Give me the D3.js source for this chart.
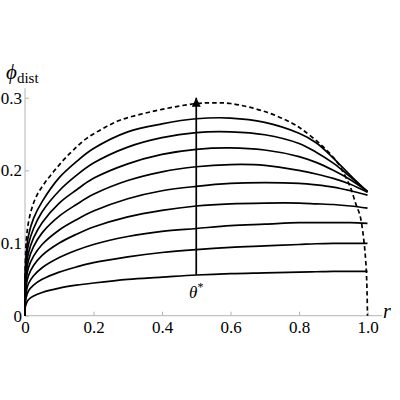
<!DOCTYPE html>
<html><head><meta charset="utf-8">
<script src="https://cdn.jsdelivr.net/npm/d3@7"></script>
<style>
html,body{margin:0;padding:0;background:#fff;}
svg{display:block;}
</style></head>
<body>
<svg id="chart" width="400" height="400"></svg>
<script>
// r sample positions
const rValues = [0, 0.001, 0.004, 0.01, 0.025, 0.05, 0.1, 0.15, 0.2, 0.3, 0.4, 0.5, 0.6, 0.7, 0.8, 0.85, 0.9, 0.95, 1.0];
// solid curves (increasing theta*)
const curve1 = [0, 0.012, 0.017, 0.022, 0.027, 0.032, 0.038, 0.042, 0.045, 0.050, 0.053, 0.056, 0.058, 0.059, 0.060, 0.0605, 0.061, 0.061, 0.061];
const curve2 = [0, 0.017, 0.026, 0.034, 0.042, 0.050, 0.060, 0.067, 0.073, 0.081, 0.087, 0.091, 0.094, 0.096, 0.098, 0.099, 0.0995, 0.0995, 0.0995];
const curve3 = [0, 0.023, 0.034, 0.044, 0.055, 0.066, 0.080, 0.090, 0.098, 0.109, 0.116, 0.120, 0.124, 0.126, 0.128, 0.128, 0.128, 0.128, 0.127];
const curve4 = [0, 0.029, 0.043, 0.055, 0.069, 0.083, 0.100, 0.112, 0.122, 0.136, 0.145, 0.151, 0.154, 0.155, 0.155, 0.154, 0.153, 0.151, 0.148];
const curve5 = [0, 0.035, 0.051, 0.066, 0.082, 0.098, 0.118, 0.132, 0.144, 0.161, 0.172, 0.178, 0.182, 0.183, 0.182, 0.180, 0.177, 0.172, 0.166];
const curve6 = [0, 0.041, 0.060, 0.076, 0.095, 0.114, 0.137, 0.153, 0.167, 0.186, 0.198, 0.205, 0.208, 0.207, 0.200, 0.195, 0.189, 0.181, 0.170];
const curve7 = [0, 0.047, 0.068, 0.086, 0.107, 0.128, 0.155, 0.173, 0.189, 0.209, 0.222, 0.229, 0.231, 0.228, 0.219, 0.211, 0.200, 0.187, 0.171];
const curve8 = [0, 0.055, 0.077, 0.098, 0.120, 0.143, 0.172, 0.193, 0.210, 0.232, 0.245, 0.252, 0.253, 0.249, 0.237, 0.225, 0.210, 0.191, 0.171];
const curve9 = [0, 0.063, 0.088, 0.110, 0.134, 0.157, 0.190, 0.212, 0.230, 0.253, 0.264, 0.271, 0.272, 0.266, 0.251, 0.238, 0.217, 0.193, 0.170];
const solidCurves = [curve1, curve2, curve3, curve4, curve5, curve6, curve7, curve8, curve9];
// dashed envelope
const envR   = [0, 0.001, 0.004, 0.01, 0.02, 0.035, 0.058, 0.083, 0.112, 0.141, 0.18, 0.229, 0.277, 0.336, 0.4, 0.5, 0.55, 0.6, 0.7, 0.78, 0.81, 0.86, 0.9, 0.92, 0.95, 0.965, 0.978, 0.987, 0.996, 1.0];
const envPhi = [0, 0.072, 0.105, 0.128, 0.148, 0.166, 0.183, 0.198, 0.214, 0.228, 0.244, 0.258, 0.269, 0.277, 0.284, 0.292, 0.293, 0.292, 0.281, 0.265, 0.256, 0.237, 0.218, 0.205, 0.177, 0.155, 0.138, 0.113, 0.067, 0];
// arrow (theta* increasing)
const arrowR = 0.5, arrowFrom = 0.056, arrowTo = 0.3;
const xTicks = [0, 0.2, 0.4, 0.6, 0.8, 1.0];
const xTickLabels = ["0", "0.2", "0.4", "0.6", "0.8", "1.0"];
const yTicks = [0, 0.1, 0.2, 0.3];
const yTickLabels = ["0", "0.1", "0.2", "0.3"];

const FONT = "Liberation Serif, serif";
const svg = d3.select("#chart").attr("font-family", FONT);
const x = d3.scaleLinear().domain([0, 1]).range([25, 367.5]);
const y = d3.scaleLinear().domain([0, 0.3]).range([315.7, 97.7]);
const axisColor = "#b4b4b4";

// axis lines
svg.append("line").attr("x1", x(0)).attr("x2", x(1.043)).attr("y1", y(0)).attr("y2", y(0))
  .attr("stroke", axisColor).attr("stroke-width", 1);
svg.append("line").attr("x1", x(0)).attr("x2", x(0)).attr("y1", y(0)).attr("y2", y(0.313))
  .attr("stroke", axisColor).attr("stroke-width", 1);

const xAxis = svg.append("g").attr("transform", `translate(0,${y(0)})`)
  .call(d3.axisBottom(x).tickValues(xTicks).tickFormat((d, i) => xTickLabels[i]).tickSize(-4).tickSizeOuter(0));
xAxis.attr("font-family", FONT).attr("font-size", 17);
xAxis.select(".domain").remove();
xAxis.selectAll("line").attr("stroke", axisColor);
xAxis.selectAll("text").attr("y", 17).attr("dy", 0).attr("fill", "#000").attr("font-family", FONT);

const yAxis = svg.append("g").attr("transform", `translate(${x(0)},0)`)
  .call(d3.axisLeft(y).tickValues(yTicks).tickFormat((d, i) => yTickLabels[i]).tickSize(-4).tickSizeOuter(0));
yAxis.attr("font-family", FONT).attr("font-size", 17);
yAxis.select(".domain").remove();
yAxis.selectAll("line").attr("stroke", axisColor);
yAxis.selectAll("text").attr("x", -3).attr("dy", "0.33em").attr("fill", "#000").attr("font-family", FONT);

const line = d3.line().x(d => x(d[0])).y(d => y(d[1])).curve(d3.curveCatmullRom.alpha(0.5));

// solid curves
svg.append("g").selectAll("path").data(solidCurves).join("path")
  .attr("d", c => line(rValues.map((r, i) => [r, c[i]])))
  .attr("fill", "none").attr("stroke", "#000").attr("stroke-width", 1.7);

// dashed envelope
svg.append("path")
  .attr("d", line(envR.map((r, i) => [r, envPhi[i]])))
  .attr("fill", "none").attr("stroke", "#000").attr("stroke-width", 1.7)
  .attr("stroke-dasharray", "4.5,3");

// arrow
const defs = svg.append("defs");
defs.append("marker").attr("id", "ah").attr("viewBox", "0 0 10 10").attr("refX", 10).attr("refY", 5)
  .attr("markerWidth", 10).attr("markerHeight", 9).attr("markerUnits", "userSpaceOnUse").attr("orient", "auto")
  .append("path").attr("d", "M0,0 L10,5 L0,10 Z").attr("fill", "#000");
svg.append("line").attr("x1", x(arrowR)).attr("x2", x(arrowR)).attr("y1", y(arrowFrom)).attr("y2", y(arrowTo))
  .attr("stroke", "#000").attr("stroke-width", 1.7).attr("marker-end", "url(#ah)");

// theta* label
const th = svg.append("text").attr("x", x(arrowR)).attr("y", 298).attr("text-anchor", "middle")
  .attr("font-size", 17).attr("font-family", FONT);
th.append("tspan").attr("font-style", "italic").text("θ");
th.append("tspan").attr("dy", -7).attr("font-size", 12).text("*");

// r label
svg.append("text").attr("x", 383).attr("y", 318).attr("font-style", "italic").attr("font-size", 20)
  .attr("font-family", FONT).text("r");

// phi_dist label
const ph = svg.append("text").attr("x", 6).attr("y", 79).attr("font-size", 21).attr("font-family", FONT);
ph.append("tspan").attr("font-style", "italic").text("ϕ");
ph.append("tspan").attr("dy", 4).attr("font-size", 15).text("dist");
</script>
</body></html>
